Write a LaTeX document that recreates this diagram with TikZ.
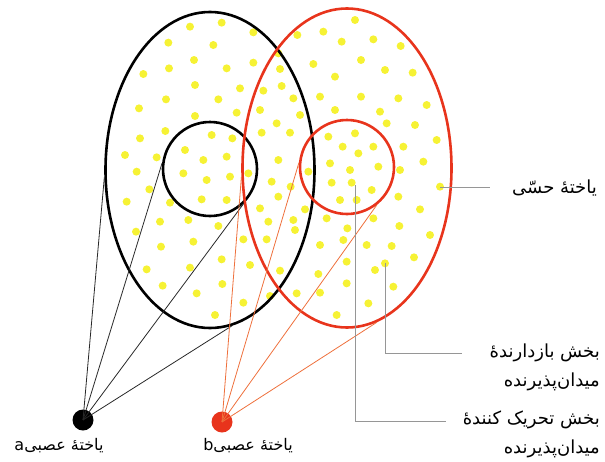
\documentclass[tikz,border=0pt]{standalone}
\usepackage{fontspec}
\usetikzlibrary{shapes.geometric}
\TeXXeTstate=1
\newfontfamily\fa[Script=Arabic]{DejaVu Sans}
\definecolor{dotyellow}{RGB}{246,242,52}
\definecolor{cellred}{RGB}{232,52,28}
\definecolor{fiberorange}{RGB}{238,112,60}
\definecolor{leadergray}{RGB}{150,150,150}
\definecolor{fiberblack}{RGB}{40,40,40}
\begin{document}
\begin{tikzpicture}[x=1pt,y=-1pt,
  fielddot/.style={fill=dotyellow},
  bigfield/.style={draw,ellipse,line width=2.6pt,inner sep=0pt},
  smallfield/.style={draw,circle,line width=2.6pt,inner sep=0pt,minimum size=94pt},
  neuron/.style={circle,inner sep=0pt,minimum size=21pt},
  blackfiber/.style={draw=fiberblack,line width=0.8pt},
  redfiber/.style={draw=fiberorange,line width=0.8pt},
  leader/.style={draw=leadergray,line width=0.7pt},
  lbl/.style={font=\fa\fontsize{18}{29}\selectfont,inner sep=0pt,align=right},
  nlbl/.style={font=\fa\fontsize{16}{20}\selectfont,inner sep=0pt}]
\useasboundingbox (0,0) rectangle (605,461);
% receptive field dots
\foreach \a/\b in {390/80,485/68,580/97,325/128,460/135,655/160,712/105,790/95,885/60,845/125,940/118,1022/138,
402/180,500/205,580/188,660/207,760/192,903/180,975/210,1058/218,250/222,327/205,405/255,540/265,610/272,665/258,825/230,
237/325,318/298,475/298,700/295,780/290,903/290,1015/295,1100/315,405/348,530/338,600/330,720/345,825/330,960/335,
240/415,316/393,455/405,517/415,605/398,650/370,690/398,885/400,805/410,980/370,1065/375,1130/420,
195/465,290/472,375/450,430/480,500/470,655/480,848/440,940/440,1030/440,
230/515,370/520,440/540,510/530,565/520,745/515,810/490,895/460,955/500,870/510,1020/510,1090/485,
268/568,330/608,425/598,500/600,635/545,692/560,815/548,875/548,935/570,1140/560,
200/605,600/625,655/590,735/628,840/600,890/600,1015/590,
228/695,300/665,385/660,475/678,550/718,625/665,700/660,800/655,862/685,940/655,1018/678,1080/628,
303/740,400/725,485/778,620/718,705/690,780/735,850/720,920/735,995/738,1110/705,
260/808,390/803,570/795,660/812,775/822,860/785,945/810,1062/772,
308/857,410/880,487/852,630/888,710/880,780/878,860/850,1000/860,465/945,550/908,830/945,925/910,975/790}
  \fill[fielddot] ({60+\a/3},{\b/3}) circle (4);
% fields
\node[bigfield,minimum width=209pt,minimum height=316pt] (E1) at (210,170) {};
\node[smallfield] (C1) at (210,169) {};
\node[bigfield,draw=cellred,minimum width=209pt,minimum height=319pt] (E2) at (347,168) {};
\node[smallfield,draw=cellred] (C2) at (347,167) {};
% neurons
\node[neuron,fill=black] (A) at (83,420) {};
\node[neuron,fill=cellred] (B) at (222,422) {};
% fibers
\draw[blackfiber] (A.center) -- (E1.184);
\draw[blackfiber] (A.center) -- (C1.173);
\draw[blackfiber] (A.center) -- (C1.-46);
\draw[blackfiber] (A.center) -- (E1.-82);
\draw[redfiber] (B.center) -- (E2.185);
\draw[redfiber] (B.center) -- (C2.175);
\draw[redfiber] (B.center) -- (C2.-52);
\draw[redfiber] (B.center) -- (E2.-79);
% leader lines
\coordinate (s1) at (440,187);
\coordinate (s2) at (490,187);
\coordinate (i1) at (385,263);
\coordinate (i2) at (385,353);
\coordinate (i3) at (462,353);
\coordinate (x1) at (355,185);
\coordinate (x2) at (355,421);
\coordinate (x3) at (446,421);
\draw[leader] (s1) -- (s2);
\draw[leader] (i1) -- (i2) -- (i3);
\draw[leader] (x1) -- (x2) -- (x3);
% labels
\node[lbl,anchor=east] (Ls) at (597,188) {\beginR یاختهٔ حسّی\endR};
\node[lbl,anchor=north east] (Li) at (600,344) {\beginR بخش بازدارندهٔ\endR\\\beginR میدان‌پذیرنده\endR};
\node[lbl,anchor=north east] (Lx) at (600,411) {\beginR بخش تحریک کنندهٔ\endR\\\beginR میدان‌پذیرنده\endR};
\node[nlbl,anchor=center] (La) at (59,446) {\beginR یاختهٔ عصبی\beginL a\endL\endR};
\node[nlbl,anchor=center] (Lb) at (248,446) {\beginR یاختهٔ عصبی\beginL b\endL\endR};
\end{tikzpicture}
\end{document}
